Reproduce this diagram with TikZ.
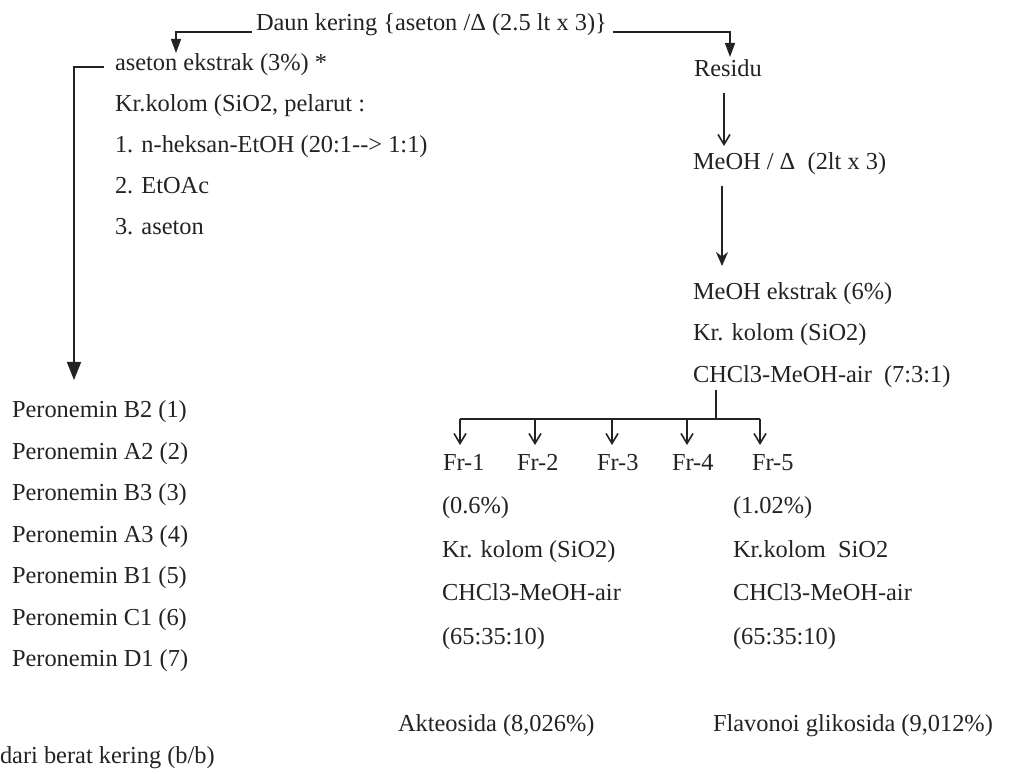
\documentclass[tikz,border=0pt]{standalone}
\usepackage{fontspec}
\setmainfont{Liberation Serif}
\usetikzlibrary{arrows.meta,calc}
\definecolor{ink}{RGB}{35,35,35}
\begin{document}
\begin{tikzpicture}[x=0.5pt,y=-0.5pt,
  txt/.style={anchor=base west,inner sep=0pt,outer sep=0pt,text=ink,font=\fontsize{12.2}{14}\selectfont},
  ln/.style={draw=ink,line width=0.65pt},
  tipT/.style={ln,-{Triangle[length=7pt,width=5pt]}},
  tipBig/.style={ln,line width=0.8pt,-{Triangle[length=9pt,width=7pt]}},
  tipV/.style={ln,-{Straight Barb[length=5pt,width=6pt,line width=0.8pt]}},
  tipS/.style={ln,-{Stealth[length=7pt,width=6pt]}}]
\useasboundingbox (0,0) rectangle (1018,774);
\fill[white] (0,0) rectangle (1018,774);

% top
\node[txt] (daun) at (256,31) {Daun kering \{aseton /Δ (2.5 lt x 3)\}};

% left column
\node[txt] (aseton) at (115,71) {aseton ekstrak (3\%) *};
\node[txt] (kr1) at (115,112) {Kr.kolom (SiO2, pelarut :};
\node[txt] (s1) at (115,153) {1. n-heksan-EtOH (20:1{-}{-}> 1:1)};
\node[txt] (s2) at (115,194) {2. EtOAc};
\node[txt] (s3) at (115,235) {3. aseton};

\node[txt] (p1) at (12,418) {Peronemin B2 (1)};
\node[txt] (p2) at (12,459.5) {Peronemin A2 (2)};
\node[txt] (p3) at (12,501) {Peronemin B3 (3)};
\node[txt] (p4) at (12,542.5) {Peronemin A3 (4)};
\node[txt] (p5) at (12,584) {Peronemin B1 (5)};
\node[txt] (p6) at (12,625.5) {Peronemin C1 (6)};
\node[txt] (p7) at (12,667) {Peronemin D1 (7)};
\node[txt] (dari) at (0,763) {dari berat kering (b/b)};

% right column
\node[txt] (residu) at (694,77) {Residu};
\node[txt] (meoh1) at (693,170) {MeOH / Δ\ \ (2lt x 3)};
\node[txt] (meoh2) at (693,300) {MeOH ekstrak (6\%)};
\node[txt] (kr2) at (693,341) {Kr. kolom (SiO2)};
\node[txt] (chcl) at (693,383) {CHCl3-MeOH-air\ \ (7:3:1)};

% fractions
\node[txt] (fr1) at (443,471) {Fr-1};
\node[txt] (fr2) at (517,471) {Fr-2};
\node[txt] (fr3) at (597,471) {Fr-3};
\node[txt] (fr4) at (672,471) {Fr-4};
\node[txt] (fr5) at (752,471) {Fr-5};

\node[txt] (fa1) at (442,514) {(0.6\%)};
\node[txt] (fa2) at (442,558) {Kr. kolom (SiO2)};
\node[txt] (fa3) at (442,601) {CHCl3-MeOH-air};
\node[txt] (fa4) at (442,645) {(65:35:10)};
\node[txt] (akt) at (398,732) {Akteosida (8,026\%)};

\node[txt] (fb1) at (733,514) {(1.02\%)};
\node[txt] (fb2) at (733,558) {Kr.kolom\ \ SiO2};
\node[txt] (fb3) at (733,601) {CHCl3-MeOH-air};
\node[txt] (fb4) at (733,645) {(65:35:10)};
\node[txt] (flv) at (713,732) {Flavonoi glikosida (9,012\%)};

% connectors
\draw[tipT] ($(daun.base west)+(-4,1)$) -| ($(aseton.base west)+(61,-18)$);
\draw[tipT] ($(daun.base east)+(6,1)$) -| ($(residu.base west)+(36,-20)$);
\draw[tipBig] ($(aseton.base west)+(-11,-4)$) -| ($(p1.base west)+(62,-38)$);
\draw[tipV] ($(residu.base west)+(30,16)$) -- ($(meoh1.base west)+(31,-24)$);
\draw[tipS] ($(meoh1.base west)+(29,16)$) -- ($(meoh2.base west)+(29,-34)$);

\coordinate (br) at ($(chcl.base west)+(23,36)$);
\draw[ln] ($(chcl.base west)+(23,7)$) -- (br);
\coordinate (a1) at ($(fr1.base west)+(17,-26)$);
\coordinate (a2) at ($(fr2.base west)+(18,-26)$);
\coordinate (a3) at ($(fr3.base west)+(15,-26)$);
\coordinate (a4) at ($(fr4.base west)+(15,-26)$);
\coordinate (a5) at ($(fr5.base west)+(8,-26)$);
\draw[ln] (a1 |- br) -- (a5 |- br);
\foreach \a in {a1,a2,a3,a4,a5}{\draw[tipV] (\a |- br) -- (\a);}
\end{tikzpicture}
\end{document}
